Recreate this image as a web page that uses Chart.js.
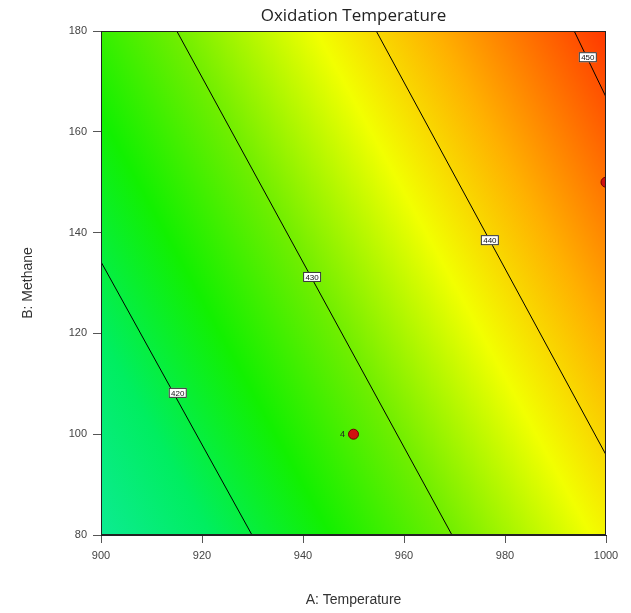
<!DOCTYPE html>
<html>
<head>
  <title>Oxidation Temperature</title>
  <script src="https://cdn.jsdelivr.net/npm/chart.js"></script>
  <style>
    body { margin: 0; background: white; }
    #wrap { width: 631px; height: 613px; }
  </style>
</head>
<body>
  <div id="wrap"><canvas id="contourChart"></canvas></div>

  <script>
    // contour levels and where each line meets the plot edges
    const contourLevels = [420, 430, 440, 450];
    const contourX = [[900, 929.9], [915, 969.5], [954.5, 1000], [993.7, 1000]];
    const contourY = [[134.2, 80], [180, 80], [180, 95.9], [180, 166.9]];
    const labelX = [915.2, 941.8, 977, 996.4];
    const labelY = [108.2, 131.2, 138.5, 174.8];

    // design points
    const pointX = [950, 1000];
    const pointY = [100, 150];
    const pointTags = ['4', ''];

    // colour scale: response value -> colour
    const colorLevels = [411, 418, 424, 430, 437, 443, 452];
    const colorStops = ['#10EAA0', '#00EE60', '#12F000', '#70EE00', '#F2FF00', '#FFB000', '#FF3000'];

    const xTicks = [900, 920, 940, 960, 980, 1000];
    const yTicks = [80, 100, 120, 140, 160, 180];

    const datasets = contourLevels.map((lvl, i) => ({
      label: 'level ' + lvl,
      data: contourX[i].map((x, j) => ({ x: x, y: contourY[i][j] })),
      showLine: true,
      borderColor: '#000',
      borderWidth: 1,
      pointRadius: 0,
      fill: false
    }));
    datasets.push({
      label: 'design points',
      data: pointX.map((x, i) => ({ x: x, y: pointY[i] })),
      pointRadius: 5,
      pointBackgroundColor: '#D01010',
      pointBorderColor: '#700000',
      pointBorderWidth: 1,
      showLine: false
    });

    // background gradient laid perpendicular to the contour lines
    const fieldPlugin = {
      id: 'field',
      beforeDatasetsDraw(chart) {
        const { ctx, chartArea, scales } = chart;
        const px = v => scales.x.getPixelForValue(v);
        const py = v => scales.y.getPixelForValue(v);
        // direction of the 430 line in pixels
        const ax = px(contourX[1][0]), ay = py(contourY[1][0]);
        const bx = px(contourX[1][1]), by = py(contourY[1][1]);
        let dx = bx - ax, dy = by - ay;
        const len = Math.hypot(dx, dy);
        dx /= len; dy /= len;
        const nx = -dy, ny = dx; // normal
        // pixel distance between 420 and 440 lines along the normal
        const p0x = px(contourX[0][0]), p0y = py(contourY[0][0]);
        const p2x = px(contourX[2][0]), p2y = py(contourY[2][0]);
        const d = (p2x - p0x) * nx + (p2y - p0y) * ny;
        const perLevel = d / (contourLevels[2] - contourLevels[0]);
        const lo = colorLevels[0], hi = colorLevels[colorLevels.length - 1];
        const sx = p0x + nx * perLevel * (lo - contourLevels[0]);
        const sy = p0y + ny * perLevel * (lo - contourLevels[0]);
        const ex = p0x + nx * perLevel * (hi - contourLevels[0]);
        const ey = p0y + ny * perLevel * (hi - contourLevels[0]);
        const g = ctx.createLinearGradient(sx, sy, ex, ey);
        colorLevels.forEach((lvl, i) => g.addColorStop((lvl - lo) / (hi - lo), colorStops[i]));
        ctx.save();
        ctx.fillStyle = g;
        ctx.fillRect(chartArea.left, chartArea.top, chartArea.right - chartArea.left, chartArea.bottom - chartArea.top);
        ctx.restore();
      },
      afterDatasetsDraw(chart) {
        const { ctx, chartArea, scales } = chart;
        ctx.save();
        // frame
        ctx.strokeStyle = '#222';
        ctx.lineWidth = 1;
        ctx.strokeRect(chartArea.left + 0.5, chartArea.top + 0.5, chartArea.right - chartArea.left - 1, chartArea.bottom - chartArea.top - 1);
        // contour labels
        ctx.font = '8px "Liberation Sans"';
        ctx.textAlign = 'center';
        ctx.textBaseline = 'middle';
        contourLevels.forEach((lvl, i) => {
          const x = scales.x.getPixelForValue(labelX[i]);
          const y = scales.y.getPixelForValue(labelY[i]);
          ctx.fillStyle = '#fff';
          ctx.fillRect(x - 9, y - 5, 18, 10);
          ctx.strokeStyle = '#333';
          ctx.strokeRect(x - 9 + 0.5, y - 5 + 0.5, 17, 9);
          ctx.fillStyle = '#111';
          ctx.fillText(String(lvl), x, y + 0.5);
        });
        // replicate count next to design point
        ctx.font = '9px "Liberation Sans"';
        ctx.fillStyle = '#222';
        pointTags.forEach((t, i) => {
          if (!t) return;
          ctx.fillText(t, scales.x.getPixelForValue(pointX[i]) - 11, scales.y.getPixelForValue(pointY[i]));
        });
        // title centred over the plot
        ctx.font = '17px "Open Sans"';
        ctx.fillStyle = '#222';
        ctx.textBaseline = 'alphabetic';
        ctx.fillText('Oxidation Temperature', (chartArea.left + chartArea.right) / 2, 21);
        ctx.restore();
      }
    };

    const tickFont = { family: 'Liberation Sans', size: 11 };
    const axisTitleFont = { family: 'Liberation Sans', size: 14 };

    new Chart(document.getElementById('contourChart'), {
      type: 'scatter',
      data: { datasets: datasets },
      options: {
        responsive: true,
        maintainAspectRatio: false,
        animation: false,
        layout: { padding: { top: 31, right: 25, left: 0, bottom: 0 } },
        plugins: {
          legend: { display: false },
          tooltip: { enabled: false },
          title: { display: false }
        },
        scales: {
          x: {
            type: 'linear',
            min: xTicks[0],
            max: xTicks[xTicks.length - 1],
            afterBuildTicks: s => { s.ticks = xTicks.map(v => ({ value: v })); },
            afterFit: s => { s.height = 78; },
            ticks: { color: '#444', font: tickFont, padding: 6, callback: v => String(v) },
            grid: { drawOnChartArea: false, drawTicks: true, tickLength: 8, color: '#555' },
            border: { display: true, color: '#222' },
            title: { display: true, text: 'A: Temperature', color: '#333', font: axisTitleFont, padding: { top: 20 } }
          },
          y: {
            type: 'linear',
            min: yTicks[0],
            max: yTicks[yTicks.length - 1],
            afterBuildTicks: s => { s.ticks = yTicks.map(v => ({ value: v })); },
            afterFit: s => { s.width = 101; },
            ticks: { color: '#444', font: tickFont, padding: 6, callback: v => String(v) },
            grid: { drawOnChartArea: false, drawTicks: true, tickLength: 8, color: '#555' },
            border: { display: true, color: '#222' },
            title: { display: true, text: 'B: Methane', color: '#333', font: axisTitleFont, padding: { top: 20, bottom: 4 } }
          }
        }
      },
      plugins: [fieldPlugin]
    });
  </script>
</body>
</html>
